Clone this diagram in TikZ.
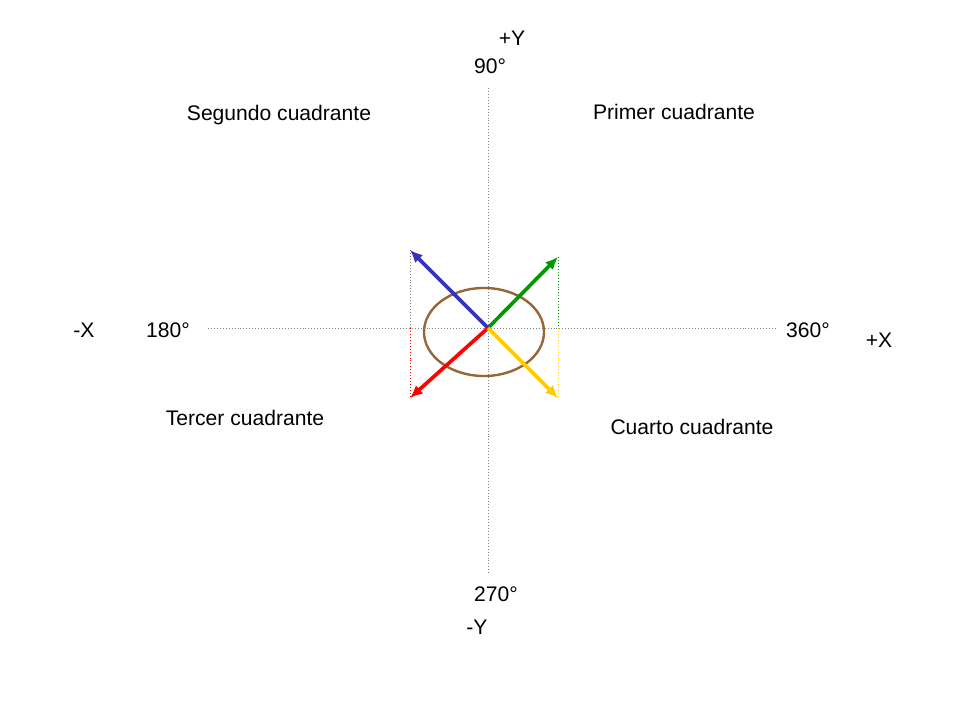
\documentclass[tikz,border=0pt]{standalone}
\usepackage{fontspec}
\setmainfont{Liberation Sans}
\usetikzlibrary{arrows.meta}

\definecolor{vblue}{RGB}{51,51,187}
\definecolor{vgreen}{RGB}{0,153,0}
\definecolor{vred}{RGB}{255,0,0}
\definecolor{vyellow}{RGB}{255,204,0}
\definecolor{vbrown}{RGB}{150,100,55}

\begin{document}
\begin{tikzpicture}[x=0.025cm,y=-0.025cm,
  lbl/.style={font=\fontsize{15}{18}\selectfont,inner sep=0pt},
  axis/.style={gray,line width=0.6pt,dash pattern=on 0.6pt off 1.5pt},
  proj/.style={line width=0.6pt,dash pattern=on 0.6pt off 1.5pt},
  vec/.style={line width=2.6pt,-{Latex[length=9pt,width=8pt]}}]
\useasboundingbox (0,0) rectangle (960,720);
\coordinate (O) at (488,328);
\coordinate (X_l) at (208,328);
\coordinate (X_r) at (775,328);
\coordinate (Y_t) at (488,88);
\coordinate (Y_b) at (488,575);
\coordinate (V_1) at (558,257);
\coordinate (V_2) at (410,250);
\coordinate (V_3) at (410,398);
\coordinate (V_4) at (558,398);
% axes
\draw[axis] (X_l) -- (X_r);
\draw[axis] (Y_t) -- (Y_b);
% projections
\draw[proj,gray] (V_2) -- (V_2 |- O);
\draw[proj,vred] (O -| V_3) -- (V_3);
\draw[proj,vgreen] (V_1) -- (V_1 |- O);
\draw[proj,vyellow] (O -| V_4) -- (V_4);
\draw[vbrown,line width=1.7pt] (484,332) ellipse [x radius=1.5cm,y radius=1.1cm];
% vectors
\draw[vec,vgreen] (O) -- (V_1);
\draw[vec,vblue] (O) -- (V_2);
\draw[vec,vred] (O) -- (V_3);
\draw[vec,vyellow] (O) -- (V_4);
% labels
\node[lbl] (pY) at (512,38) {+Y};
\node[lbl] (a90) at (490,66) {90°};
\node[lbl] (mY) at (477,627) {-Y};
\node[lbl] (a270) at (496,594) {270°};
\node[lbl] (mX) at (84,330) {-X};
\node[lbl] (a180) at (168,330) {180°};
\node[lbl] (a360) at (808,330) {360°};
\node[lbl] (pX) at (879,340) {+X};
\node[lbl] (q1) at (674,112) {Primer cuadrante};
\node[lbl] (q2) at (279,115) {Segundo cuadrante};
\node[lbl] (q3) at (245,418) {Tercer cuadrante};
\node[lbl] (q4) at (692,427) {Cuarto cuadrante};
\end{tikzpicture}
\end{document}
